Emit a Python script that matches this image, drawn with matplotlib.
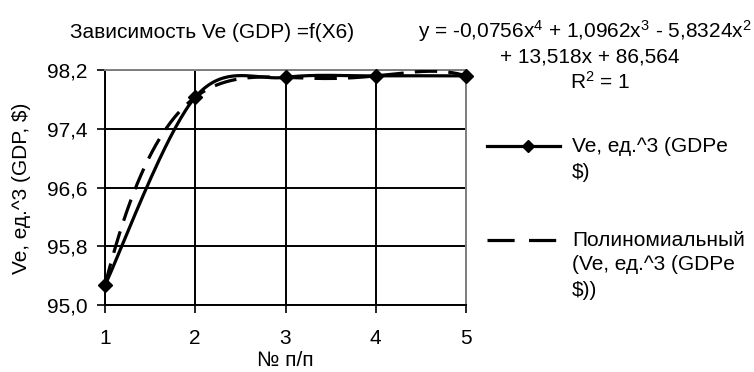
import numpy as np
import matplotlib
matplotlib.use("Agg")
import matplotlib.pyplot as plt
from matplotlib.lines import Line2D

plt.rcParams['font.family'] = ['Liberation Sans', 'DejaVu Sans']

# Data
x_vals = [1, 2, 3, 4, 5]
y_vals = [95.27, 97.83, 98.10, 98.12, 98.12]
y_ticks = [95.0, 95.8, 96.6, 97.4, 98.2]
y_tick_labels = ["95,0", "95,8", "96,6", "97,4", "98,2"]
x_tick_labels = ["1", "2", "3", "4", "5"]
title = "Зависимость Ve (GDP) =f(X6)"
eq_line1 = "y = -0,0756x$^4$ + 1,0962x$^3$ - 5,8324x$^2$"
eq_line2 = "+ 13,518x + 86,564"
eq_line3 = "R$^2$ = 1"
series_label = ["Ve, ед.^3 (GDPe", "$)"]
trend_label = ["Полиномиальный", "(Ve, ед.^3 (GDPe", "$))"]
y_label = "Ve, ед.^3 (GDP, $)"
x_label = "№ п/п"

fs = 15
plt.rcParams['mathtext.fontset'] = 'custom'
plt.rcParams['mathtext.rm'] = 'Liberation Sans'
plt.rcParams['mathtext.it'] = 'Liberation Sans'

fig = plt.figure(figsize=(7.54, 3.72), dpi=100)
ax = fig.add_axes([105/754, 1-305/372, (466-105)/754, (305-70)/372])

# Smoothed line (Catmull-Rom style Bezier)
xs = np.array(x_vals, float)
ys = np.array(y_vals, float)
P = np.column_stack([xs, ys])
Pext = np.vstack([P[0], P, P[-1]])
curve = []
t = np.linspace(0, 1, 40)
for i in range(len(P) - 1):
    p0 = Pext[i + 1]
    p3 = Pext[i + 2]
    c1 = p0 + (Pext[i + 2] - Pext[i]) / 6
    c2 = p3 - (Pext[i + 3] - Pext[i + 1]) / 6
    seg = ((1 - t)**3)[:, None] * p0 + (3 * (1 - t)**2 * t)[:, None] * c1 \
        + (3 * (1 - t) * t**2)[:, None] * c2 + (t**3)[:, None] * p3
    curve.append(seg if i == 0 else seg[1:])
curve = np.vstack(curve)
ax.plot(curve[:, 0], curve[:, 1], color='black', lw=2.3, zorder=3, clip_on=False)
ax.plot(xs, ys, linestyle='none', marker='D', ms=7, color='black', zorder=4, clip_on=False)

# Polynomial trend
coef = np.polyfit(xs, ys, 4)
xt = np.linspace(1, 5, 200)
yt = np.polyval(coef, xt)
ax.plot(xt, yt, color='black', lw=2.3, ls=(0, (7, 3.5)), zorder=3)

ax.set_xlim(1, 5)
ax.set_ylim(95.0, 98.2)
ax.set_xticks(x_vals)
ax.set_xticklabels(x_tick_labels, fontsize=fs)
ax.set_yticks(y_ticks)
ax.set_yticklabels(y_tick_labels, fontsize=fs)
ax.tick_params(axis='both', direction='out', length=5.5, width=1.2, color='black')
ax.tick_params(axis='x', pad=12)
ax.tick_params(axis='y', pad=7)
ax.set_axisbelow(True)
ax.grid(True, color='black', lw=1.4)
for s in ['left', 'bottom']:
    ax.spines[s].set_color('black')
    ax.spines[s].set_linewidth(1.4)
for s in ['top', 'right']:
    ax.spines[s].set_color('#808080')
    ax.spines[s].set_linewidth(1.4)

fig.text(285/754, 1-361/372, x_label, fontsize=fs, ha='center', va='center')
fig.text(22/754, 1-188/372, y_label, rotation=90, fontsize=fs, ha='center', va='center')

fig.text(212/754, 1-33/372, title, fontsize=fs, ha='center', va='center')
fig.text(752/754, 1-31/372, eq_line1, fontsize=fs, ha='right', va='center')
fig.text(590/754, 1-57/372, eq_line2, fontsize=fs, ha='center', va='center')
fig.text(600/754, 1-82/372, eq_line3, fontsize=fs, ha='center', va='center')

# Legend
fig.add_artist(Line2D([487/754, 560/754], [1-146/372, 1-146/372], color='black', lw=2.3,
                      transform=fig.transFigure))
fig.add_artist(Line2D([528/754], [1-146/372], marker='D', ms=6, color='black',
                      transform=fig.transFigure))
fig.add_artist(Line2D([487/754, 560/754], [1-240/372, 1-240/372], color='black', lw=2.3,
                      ls=(0, (8.5, 4.5)), transform=fig.transFigure))
fig.text(572/754, 1-146/372, series_label[0], fontsize=fs, ha='left', va='center')
fig.text(572/754, 1-172/372, series_label[1], fontsize=fs, ha='left', va='center')
for k, lab in enumerate(trend_label):
    fig.text(572/754, 1-(240 + 25*k)/372, lab, fontsize=fs, ha='left', va='center')

fig.savefig("out.png", dpi=100)
